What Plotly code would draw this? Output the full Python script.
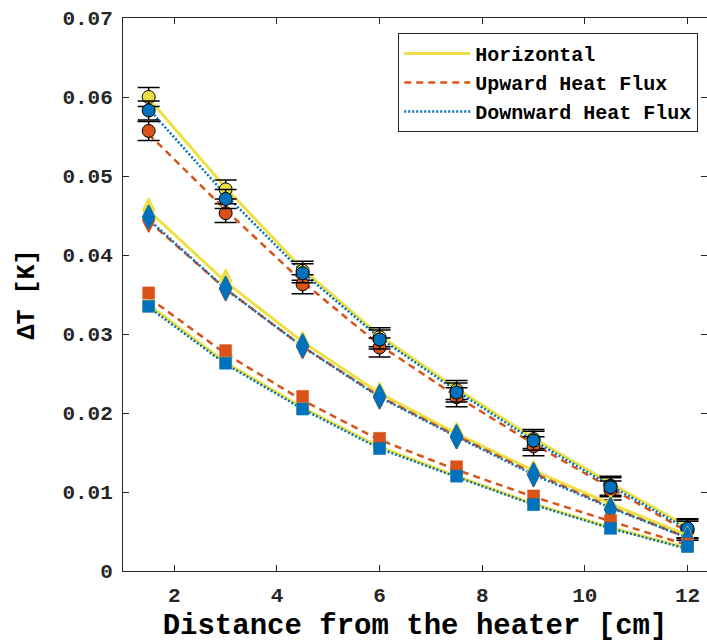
import plotly.graph_objects as go

# ---------------- data ----------------
x = [1.5, 3, 4.5, 6, 7.5, 9, 10.5, 12]

# circles (with error bars)
circ_h = [0.0600, 0.0483, 0.0380, 0.0296, 0.0229, 0.0167, 0.0108, 0.0053]
circ_u = [0.0557, 0.0453, 0.0363, 0.0283, 0.0220, 0.0158, 0.0102, 0.0051]
circ_d = [0.0583, 0.0471, 0.0377, 0.0293, 0.0226, 0.0165, 0.0106, 0.0054]
circ_err = [0.0012] * 8
circ_h_line = [0.0598, 0.0485, 0.0382, 0.0298, 0.0231, 0.0168, 0.0111, 0.0056]
circ_u_line = [0.0553, 0.0457, 0.0366, 0.0286, 0.0221, 0.0161, 0.0105, 0.0050]
circ_d_line = [0.0585, 0.0476, 0.0378, 0.0295, 0.0228, 0.0165, 0.0108, 0.0053]

# diamonds
diam_h = [0.0457, 0.0367, 0.0288, 0.0224, 0.0173, 0.0125, 0.0081, 0.0041]
diam_u = [0.0444, 0.0357, 0.0284, 0.0220, 0.0170, 0.0122, 0.0078, 0.0040]
diam_d = [0.0448, 0.0358, 0.0285, 0.0221, 0.0170, 0.0122, 0.0078, 0.0040]
diam_h_line = [0.0456, 0.0366, 0.0290, 0.0225, 0.0174, 0.0127, 0.0085, 0.0045]
diam_u_line = [0.0443, 0.0357, 0.0284, 0.0221, 0.0171, 0.0124, 0.0081, 0.0042]
diam_d_line = [0.0445, 0.0357, 0.0284, 0.0220, 0.0170, 0.0122, 0.0080, 0.0042]

# squares
sq_h = [0.0336, 0.0264, 0.0206, 0.0156, 0.0121, 0.0085, 0.0055, 0.0031]
sq_u = [0.0352, 0.0279, 0.0221, 0.0168, 0.0132, 0.0095, 0.0064, 0.0034]
sq_d = [0.0335, 0.0263, 0.0205, 0.0155, 0.0120, 0.0084, 0.0054, 0.0031]
sq_h_line = [0.0337, 0.0264, 0.0207, 0.0157, 0.0120, 0.0085, 0.0055, 0.0029]
sq_u_line = [0.0346, 0.0275, 0.0216, 0.0166, 0.0128, 0.0094, 0.0063, 0.0033]
sq_d_line = [0.0334, 0.0262, 0.0205, 0.0155, 0.0119, 0.0084, 0.0054, 0.0028]

series_names = ["Horizontal", "Upward Heat Flux", "Downward Heat Flux"]
x_ticks = [2, 4, 6, 8, 10, 12]
y_ticks = [0, 0.01, 0.02, 0.03, 0.04, 0.05, 0.06, 0.07]
y_tick_text = ["0", "0.01", "0.02", "0.03", "0.04", "0.05", "0.06", "0.07"]

# ---------------- style ----------------
YEL = "#EEE044"
ORA = "#D95319"
BLU = "#0072BD"
colors = [YEL, ORA, BLU]
line_styles = [
    dict(color=YEL, width=3, dash="solid"),
    dict(color=ORA, width=2.5, dash="7px,5px"),
    dict(color=BLU, width=2.5, dash="2px,2px"),
]
FONT = "Liberation Mono, Courier New, monospace"

fig = go.Figure()

groups = [
    ("circle", [circ_h_line, circ_u_line, circ_d_line], [circ_h, circ_u, circ_d], True),
    ("diamond-tall", [diam_h_line, diam_u_line, diam_d_line], [diam_h, diam_u, diam_d], False),
    ("square", [sq_h_line, sq_u_line, sq_d_line], [sq_h, sq_u, sq_d], False),
]

for gi, (sym, lines, marks, has_err) in enumerate(groups):
    for si in range(3):
        fig.add_trace(go.Scatter(
            x=x, y=lines[si], mode="lines", line=line_styles[si],
            name=series_names[si], showlegend=(gi == 0), hoverinfo="skip"))
    for si in range(3):
        if sym == "circle":
            mk = dict(symbol=sym, size=13, color=colors[si],
                      line=dict(color="#000000", width=1))
        elif sym == "diamond-tall":
            mk = dict(symbol=sym, size=17, color=colors[si],
                      line=dict(color=colors[si], width=1.5))
        else:
            mk = dict(symbol=sym, size=12, color=colors[si],
                      line=dict(color=colors[si], width=0.5))
        kw = {}
        if has_err:
            kw["error_y"] = dict(type="data", array=circ_err, visible=True,
                                 color="#000000", thickness=1.5, width=11)
        fig.add_trace(go.Scatter(x=x, y=marks[si], mode="markers", marker=mk,
                                 showlegend=False, hoverinfo="skip", **kw))

# dummy trace on right axis for right-side tick stubs
fig.add_trace(go.Scatter(x=[None], y=[None], yaxis="y2", showlegend=False,
                         hoverinfo="skip"))

axis_common = dict(
    showgrid=False, zeroline=False, ticks="inside", ticklen=6,
    tickcolor="#262626", tickwidth=1,
    tickfont=dict(family=FONT, size=21, color="#262626", weight="bold"),
)

fig.update_layout(
    width=707, height=643,
    margin=dict(l=123, r=0, t=18, b=72),
    paper_bgcolor="white", plot_bgcolor="white",
    showlegend=True,
    legend=dict(
        x=0.985, y=0.973, xanchor="right", yanchor="top",
        bgcolor="white", bordercolor="#262626", borderwidth=1,
        font=dict(family=FONT, size=20, color="#000000", weight="bold"),
        tracegroupgap=0, itemwidth=66,
    ),
    xaxis=dict(
        range=[1, 12.38], tickvals=x_ticks,
        showline=True, linecolor="#262626", linewidth=1, mirror="ticks",
        ticklabelstandoff=5,
        title=dict(text="Distance from the heater [cm]",
                   font=dict(family=FONT, size=29, color="#000000", weight="bold"),
                   standoff=8),
        **axis_common,
    ),
    yaxis=dict(
        range=[0, 0.07], tickvals=y_ticks, ticktext=y_tick_text,
        showline=True, linecolor="#262626", linewidth=1, mirror=False,
        ticklabelstandoff=5,
        title=dict(text="ΔT [K]",
                   font=dict(family=FONT, size=25, color="#000000", weight="bold"),
                   standoff=20),
        **axis_common,
    ),
    yaxis2=dict(
        range=[0, 0.07], tickvals=y_ticks, overlaying="y", side="right",
        showline=False, showticklabels=False, showgrid=False, zeroline=False,
        ticks="inside", ticklen=6, tickcolor="#262626", tickwidth=1,
    ),
)

fig.write_html(
    "out.html",
    config={"displayModeBar": False},
    post_script="document.body.style.margin='0';document.body.style.overflow='hidden';",
)
